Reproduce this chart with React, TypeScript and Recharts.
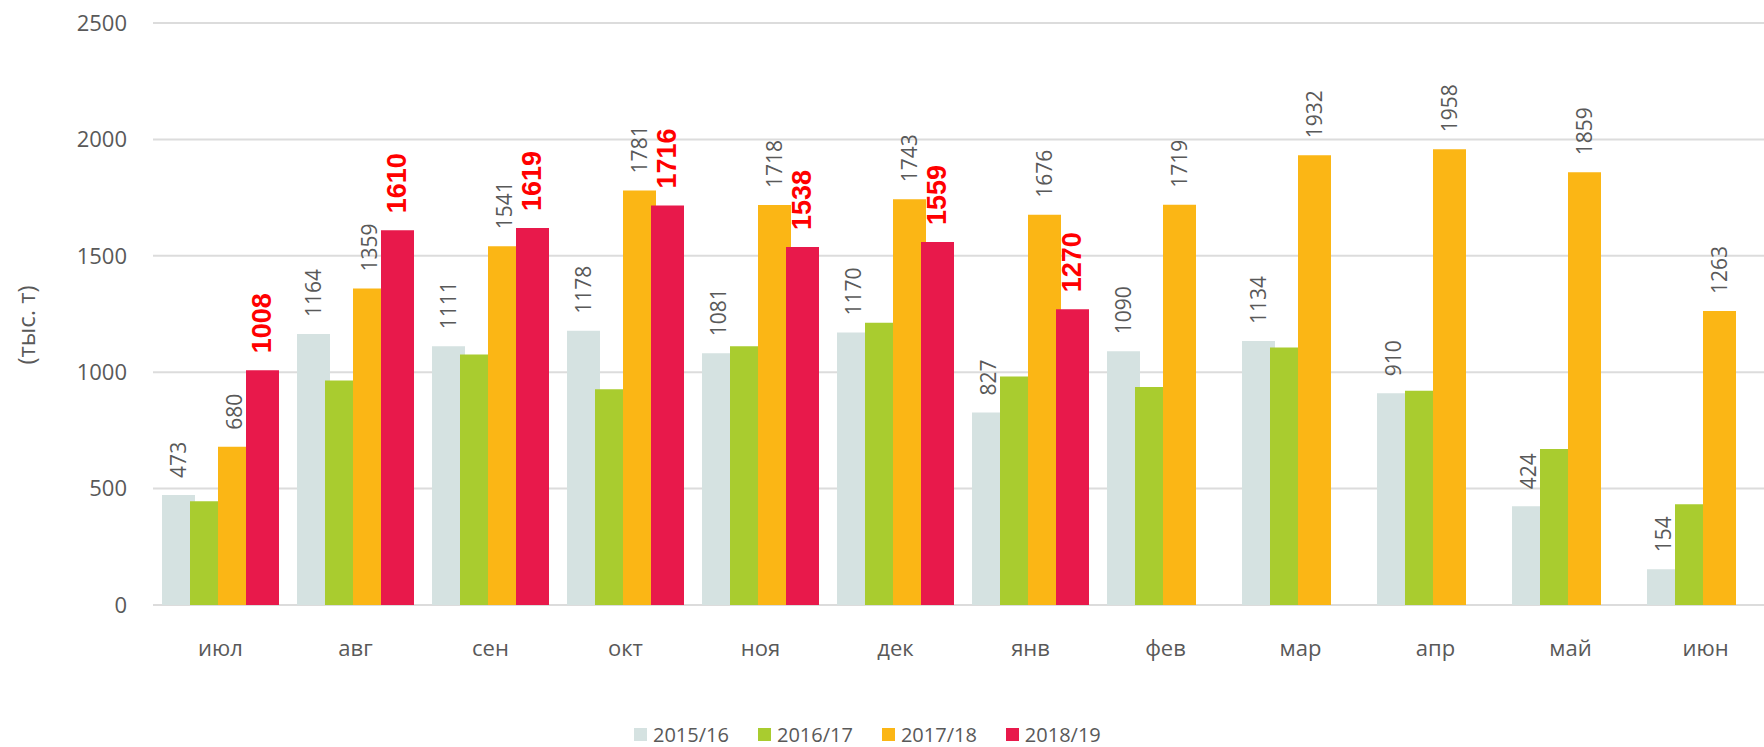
import { BarChart, Bar, XAxis, YAxis, CartesianGrid, Legend, LabelList } from "recharts";

const months = ["июл", "авг", "сен", "окт", "ноя", "дек", "янв", "фев", "мар", "апр", "май", "июн"];
const seasons = ["2015/16", "2016/17", "2017/18", "2018/19"];
const colors = ["#d5e2e1", "#a9cc2f", "#fbb615", "#e8194b"];

const v1516 = [473, 1164, 1111, 1178, 1081, 1170, 827, 1090, 1134, 910, 424, 154];
const v1617 = [446, 964, 1076, 927, 1112, 1212, 981, 936, 1106, 920, 670, 433];
const v1718 = [680, 1359, 1541, 1781, 1718, 1743, 1676, 1719, 1932, 1958, 1859, 1263];
const v1819 = [1008, 1610, 1619, 1716, 1538, 1559, 1270, null, null, null, null, null];

const yTicks = [0, 500, 1000, 1500, 2000, 2500];

const data = months.map((m, i) => ({
  month: m,
  s1516: v1516[i],
  s1617: v1617[i],
  s1718: v1718[i],
  s1819: v1819[i],
}));

const textGray = "#595959";

// vertical value label above a bar (bold red for the current season)
function makeLabel(bold: boolean) {
  return (props: any) => {
    const { x, y, width, value } = props;
    if (value == null) return null;
    const cx = Number(x) + Number(width) / 2;
    const cy = Number(y) - 17;
    return (
      <text
        x={cx}
        y={cy}
        transform={`rotate(-90 ${cx} ${cy})`}
        textAnchor="start"
        dominantBaseline="central"
        fill={bold ? "#ff0000" : textGray}
        fontFamily={bold ? "Liberation Sans" : "Open Sans"}
        fontWeight={bold ? 700 : 400}
        fontSize={bold ? 27 : 21}
      >
        {value}
      </text>
    );
  };
}

const renderLegend = () => (
  <div
    style={{
      height: 30,
      boxSizing: "border-box",
      paddingTop: 5,
      paddingLeft: 634,
      display: "flex",
      alignItems: "center",
      gap: 29,
      fontFamily: "Open Sans",
      fontSize: 20,
      color: textGray,
    }}
  >
    {seasons.map((s, i) => (
      <div key={s} style={{ display: "flex", alignItems: "center" }}>
        <span style={{ width: 13, height: 13, background: colors[i], marginRight: 6, display: "inline-block" }} />
        {s}
      </div>
    ))}
  </div>
);

export default function App() {
  return (
    <div style={{ position: "absolute", left: 0, top: 0, width: 1764, height: 747, overflow: "hidden", background: "#fff" }}>
      <BarChart
        width={1773}
        height={747}
        data={data}
        margin={{ top: 23, right: 0, left: 0, bottom: 0 }}
        barSize={33}
        barGap={-5}
        style={{ fontFamily: "Open Sans" }}
      >
        <CartesianGrid vertical={false} stroke="#dcdcdc" strokeWidth={2} />
        <XAxis
          dataKey="month"
          height={112}
          axisLine={false}
          tickLine={false}
          tickSize={0}
          tickMargin={35}
          tick={{ fill: textGray, fontSize: 22 }}
        />
        <YAxis
          width={153}
          domain={[0, 2500]}
          ticks={yTicks}
          axisLine={false}
          tickLine={false}
          tickSize={0}
          tickMargin={26}
          tick={{ fill: textGray, fontSize: 22 }}
        />
        <Legend verticalAlign="bottom" content={renderLegend} wrapperStyle={{ left: 0, width: 1773 }} />
        <Bar dataKey="s1516" name={seasons[0]} fill={colors[0]} isAnimationActive={false}>
          <LabelList dataKey="s1516" content={makeLabel(false)} />
        </Bar>
        <Bar dataKey="s1617" name={seasons[1]} fill={colors[1]} isAnimationActive={false} />
        <Bar dataKey="s1718" name={seasons[2]} fill={colors[2]} isAnimationActive={false}>
          <LabelList dataKey="s1718" content={makeLabel(false)} />
        </Bar>
        <Bar dataKey="s1819" name={seasons[3]} fill={colors[3]} isAnimationActive={false}>
          <LabelList dataKey="s1819" content={makeLabel(true)} />
        </Bar>
      </BarChart>
      <svg style={{ position: "absolute", left: 0, top: 0, pointerEvents: "none" }} width={60} height={747}>
        <text
          x={25}
          y={325}
          transform="rotate(-90 25 325)"
          textAnchor="middle"
          dominantBaseline="central"
          fill={textGray}
          fontFamily="Open Sans"
          fontSize={24}
        >
          (тыс. т)
        </text>
      </svg>
    </div>
  );
}
